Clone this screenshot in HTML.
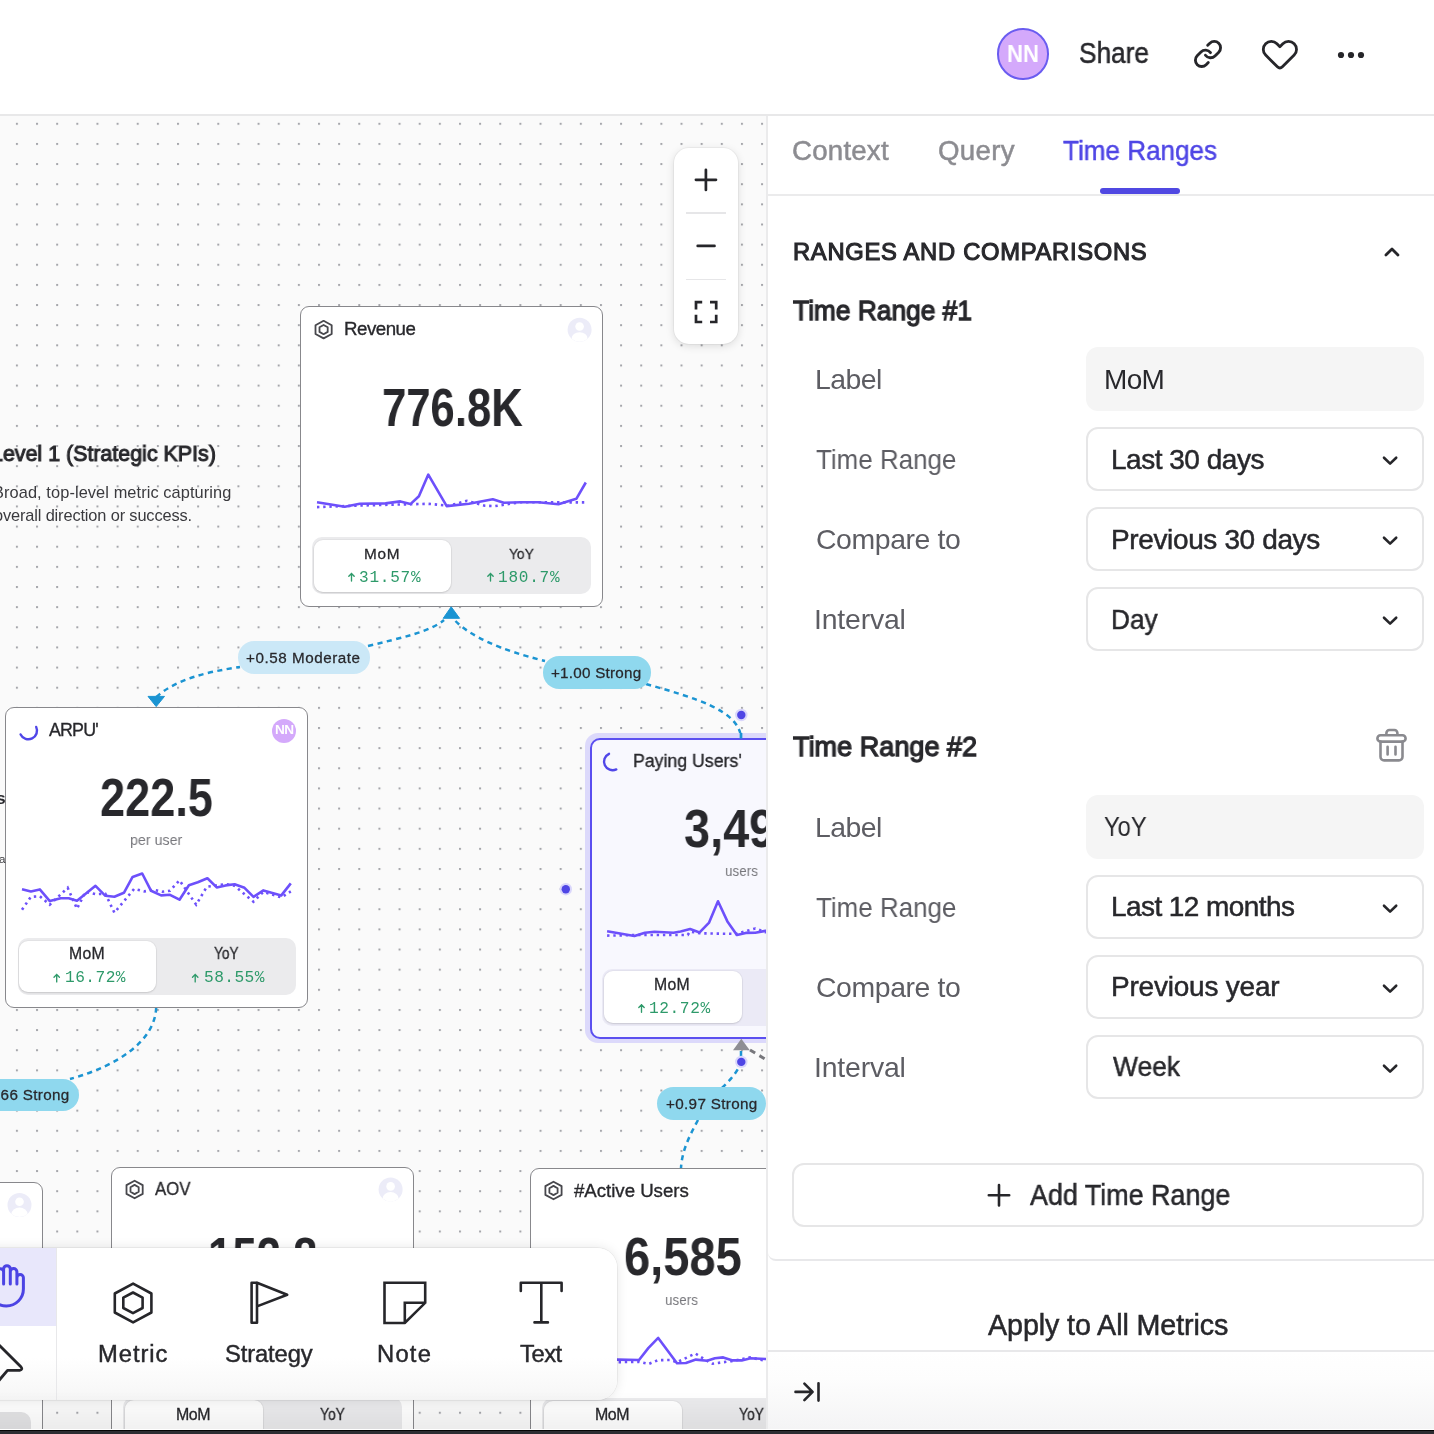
<!DOCTYPE html><html><head><meta charset="utf-8"><style>
*{margin:0;padding:0;box-sizing:border-box}
html,body{width:1434px;height:1434px;overflow:hidden;background:#fff;font-family:"Liberation Sans",sans-serif;color:#28282c}
.a{position:absolute}
.t{position:absolute;white-space:nowrap;line-height:1;will-change:transform}
svg{position:absolute;overflow:visible}
</style></head><body>
<div class="a" style="left:0;top:0;width:767px;height:1430px;overflow:hidden">
<div class="a" style="left:0;top:115px;width:767px;height:1315px;background:#fafafa"></div>
<svg class="a" style="left:0;top:0" width="767" height="1430"><defs><pattern id="dg" x="15.9" y="122.8" width="20.14" height="20.14" patternUnits="userSpaceOnUse"><rect width="2" height="2" fill="#a5a6ab"/></pattern></defs><rect x="0" y="116" width="767" height="1314" fill="url(#dg)"/></svg>
<svg class="a" style="left:0;top:0" width="767" height="1430" fill="none"><path d="M156.3 697 C 175 680, 205 672, 240 667" stroke="#1b94d2" stroke-width="2.5" stroke-dasharray="5.2 4.4"/><path d="M368 646 C 400 638, 430 632, 444 620" stroke="#1b94d2" stroke-width="2.5" stroke-dasharray="5.2 4.4"/><path d="M455.5 621 C 470 636, 500 650, 545 661" stroke="#1b94d2" stroke-width="2.5" stroke-dasharray="5.2 4.4"/><path d="M646 684 C 695 698, 738 710, 741 737" stroke="#1b94d2" stroke-width="2.5" stroke-dasharray="5.2 4.4"/><path d="M156.2 1007.5 C 155 1040, 120 1065, 70 1079" stroke="#1b94d2" stroke-width="2.5" stroke-dasharray="5.2 4.4"/><path d="M741 1051 L741 1062 C 738 1072, 730 1080, 722 1088" stroke="#1b94d2" stroke-width="2.5" stroke-dasharray="5.2 4.4"/><path d="M698 1120 C 690 1135, 682 1150, 681 1168" stroke="#1b94d2" stroke-width="2.5" stroke-dasharray="5.2 4.4"/><path d="M750 1050 L770 1062" stroke="#77777c" stroke-width="3" stroke-dasharray="6 5"/></svg>
<div class="a" style="left:300px;top:306px;width:303px;height:301px;background:#fff;border:1.3px solid #88888c;border-radius:9px;"></div>
<svg class="a" style="left:0;top:0" width="1" height="1"><path d="M323.6 320.8 L331.7 325.2 L331.7 334.0 L323.6 338.4 L315.5 334.0 L315.5 325.2 Z M323.6 325.0 L327.7 327.3 L327.7 331.9 L323.6 334.2 L319.5 331.9 L319.5 327.3 Z" stroke="#48484d" stroke-width="1.8" stroke-linejoin="round" fill="none"/></svg>
<div class="t" id="rev" style="left:343.70px;top:320.11px;font-size:18.7px;color:#28282c;-webkit-text-stroke:0.34px #28282c;letter-spacing:-0.491px;">Revenue</div>
<svg class="a" style="left:0;top:0" width="1" height="1"><circle cx="579.6" cy="329.7" r="12" fill="#ececf8"/><circle cx="579.6" cy="326.5" r="4.30" fill="#fff"/><path d="M571.6 338.7 a8.0 6.5 0 0 1 16.0 0 A12 12 0 0 1 571.6 338.7Z" fill="#fff"/></svg>
<div class="t" id="revn" style="left:381.53px;top:379.85px;font-size:54.06px;color:#28282c;font-weight:700;transform:scaleX(0.8076);transform-origin:0 0;">776.8K</div>
<svg class="a" style="left:0;top:0" width="1" height="1" fill="none"><polyline points="317.0,507.1 360.0,505.5 400.0,504.5 428.0,503.8 449.0,505.7 467.0,500.8 484.9,505.7 494.8,506.1 520.7,502.2 586.2,502.4" stroke="#6d50fb" stroke-width="2.6" stroke-dasharray="2.4 3.8" stroke-linecap="butt"/><polyline points="317.0,502.2 344.8,506.7 359.7,503.8 385.5,503.4 400.4,501.4 410.4,504.1 418.9,496.2 428.3,474.6 446.7,506.1 469.0,503.8 492.8,499.2 503.8,502.8 520.7,502.2 538.5,502.2 558.4,504.3 576.3,498.8 585.8,482.5" stroke="#6d50fb" stroke-width="2.6" stroke-linejoin="round"/></svg>
<div class="a" style="left:312px;top:537px;width:279px;height:57px;background:#ebebed;border-radius:10px"></div>
<div class="a" style="left:313.5px;top:539.5px;width:137px;height:52px;background:#fff;border-radius:9px;box-shadow:0 1px 2px rgba(0,0,0,.12),0 0 0 1px rgba(0,0,0,.03)"></div>
<div class="t" id="revm" style="left:364.40px;top:546.24px;font-size:15.36px;color:#28282c;-webkit-text-stroke:0.28px #28282c;letter-spacing:0.665px;">MoM</div>
<div class="t" id="revy" style="left:508.60px;top:546.24px;font-size:15.36px;color:#28282c;-webkit-text-stroke:0.28px #28282c;transform:scaleX(0.8963);transform-origin:0 0;">YoY</div>
<div class="t" id="revmv" style="left:358.60px;top:569.50px;font-size:16.06px;color:#2e9a6a;font-family:'Liberation Mono',monospace;letter-spacing:0.760px;">31.57%</div>
<div class="t" id="revyv" style="left:497.70px;top:569.50px;font-size:16.06px;color:#2e9a6a;font-family:'Liberation Mono',monospace;letter-spacing:0.760px;">180.7%</div>
<svg class="a" style="left:0;top:0" width="1" height="1" fill="none" stroke="#2e9a6a" stroke-width="1.35" stroke-linecap="round" stroke-linejoin="round"><path d="M351.5 581.0 V573.5 M348.8 576.3 L351.5 573.5 L354.2 576.3"/></svg>
<svg class="a" style="left:0;top:0" width="1" height="1" fill="none" stroke="#2e9a6a" stroke-width="1.35" stroke-linecap="round" stroke-linejoin="round"><path d="M490.5 581.0 V573.5 M487.8 576.3 L490.5 573.5 L493.2 576.3"/></svg>
<div class="a" style="left:5px;top:707px;width:303px;height:301px;background:#fff;border:1.3px solid #88888c;border-radius:9px;"></div>
<svg class="a" style="left:0;top:0" width="1" height="1" fill="none"><path d="M20.6 734.4 A8.5 8.5 0 0 0 36.2 726.9" stroke="#5046e8" stroke-width="2.4" stroke-linecap="round"/></svg>
<div class="t" id="arpu" style="left:48.70px;top:721.74px;font-size:17.83px;color:#28282c;-webkit-text-stroke:0.32px #28282c;letter-spacing:-0.831px;">ARPU'</div>
<div class="a" style="left:272.3px;top:718.5px;width:24px;height:24px;border-radius:50%;background:#d4a9fb"></div>
<div class="t" id="nns" style="left:274.90px;top:723.12px;font-size:13.62px;color:#fff;font-weight:700;letter-spacing:-0.665px;">NN</div>
<div class="t" id="arpun" style="left:99.94px;top:770.60px;font-size:54.35px;color:#28282c;font-weight:700;transform:scaleX(0.8301);transform-origin:0 0;">222.5</div>
<div class="t" id="peru" style="left:129.97px;top:832.04px;font-size:15.36px;color:#77777c;transform:scaleX(0.9273);transform-origin:0 0;">per user</div>
<svg class="a" style="left:0;top:0" width="1" height="1" fill="none"><polyline points="22.0,909.7 30.9,896.8 39.8,896.2 49.8,904.7 67.7,887.8 77.0,908.7 85.5,891.8 95.5,894.2 105.4,893.8 114.4,912.7 134.2,888.8 144.2,891.4 154.1,889.8 162.0,891.8 170.0,890.8 179.5,880.3 196.2,904.7 206.8,886.8 225.7,884.2 234.6,885.8 253.5,901.7 263.4,891.8 281.3,897.4 290.8,891.4" stroke="#6d50fb" stroke-width="2.6" stroke-dasharray="2.4 3.8" stroke-linecap="butt"/><polyline points="22.0,889.2 30.9,891.4 39.8,889.4 49.8,901.1 60.7,898.2 68.7,898.2 77.0,900.7 95.5,885.8 105.4,895.8 114.4,896.8 123.9,892.8 132.6,876.9 142.2,873.5 151.1,890.8 161.1,895.4 170.0,894.8 179.5,899.7 188.9,885.2 197.8,882.3 207.4,878.3 216.7,887.4 225.7,885.4 234.6,884.2 244.5,887.8 253.5,896.8 263.4,890.4 281.3,895.4 290.8,883.4" stroke="#6d50fb" stroke-width="2.6" stroke-linejoin="round"/></svg>
<div class="a" style="left:17.5px;top:938px;width:278.5px;height:56.5px;background:#ebebed;border-radius:10px"></div>
<div class="a" style="left:19.0px;top:940.5px;width:137px;height:51.5px;background:#fff;border-radius:9px;box-shadow:0 1px 2px rgba(0,0,0,.12),0 0 0 1px rgba(0,0,0,.03)"></div>
<div class="t" id="arpm" style="left:68.90px;top:946.27px;font-size:15.8px;color:#28282c;-webkit-text-stroke:0.28px #28282c;letter-spacing:0.237px;">MoM</div>
<div class="t" id="arpy" style="left:214.05px;top:946.27px;font-size:15.8px;color:#28282c;-webkit-text-stroke:0.28px #28282c;transform:scaleX(0.8679);transform-origin:0 0;">YoY</div>
<div class="t" id="arpmv" style="left:64.90px;top:970.28px;font-size:16.21px;color:#2e9a6a;font-family:'Liberation Mono',monospace;letter-spacing:0.456px;">16.72%</div>
<div class="t" id="arpyv" style="left:203.90px;top:970.28px;font-size:16.21px;color:#2e9a6a;font-family:'Liberation Mono',monospace;letter-spacing:0.418px;">58.55%</div>
<svg class="a" style="left:0;top:0" width="1" height="1" fill="none" stroke="#2e9a6a" stroke-width="1.35" stroke-linecap="round" stroke-linejoin="round"><path d="M56.7 981.9 V974.4 M54.0 977.2 L56.7 974.4 L59.4 977.2"/></svg>
<svg class="a" style="left:0;top:0" width="1" height="1" fill="none" stroke="#2e9a6a" stroke-width="1.35" stroke-linecap="round" stroke-linejoin="round"><path d="M195.2 981.9 V974.4 M192.5 977.2 L195.2 974.4 L197.9 977.2"/></svg>
<div class="a" style="left:585px;top:733.3px;width:310px;height:310px;border-radius:13px;background:#dcd9fb"></div>
<div class="a" style="left:589.5px;top:737.6px;width:301px;height:301px;border-radius:10px;background:#f8f8fe;border:2px solid #5b4ff0"></div>
<svg class="a" style="left:0;top:0" width="1" height="1" fill="none"><path d="M609 753.8 A8.6 8.6 0 0 0 616.3 769.4" stroke="#5046e8" stroke-width="2.4" stroke-linecap="round"/></svg>
<div class="t" id="pay" style="left:633.25px;top:751.50px;font-size:18.7px;color:#28282c;-webkit-text-stroke:0.34px #28282c;transform:scaleX(0.9478);transform-origin:0 0;">Paying Users'</div>
<div class="t" id="payn" style="left:683.64px;top:801.33px;font-size:54.2px;color:#28282c;font-weight:700;transform:scaleX(0.8647);transform-origin:0 0;">3,493</div>
<div class="t" id="payu" style="left:724.88px;top:862.94px;font-size:15.36px;color:#77777c;transform:scaleX(0.8750);transform-origin:0 0;">users</div>
<svg class="a" style="left:0;top:0" width="1" height="1" fill="none"><polyline points="607.1,935.6 640.0,935.0 687.7,935.0 690.0,931.5 699.6,933.3 736.3,933.9 755.3,928.5 765.4,932.1 780.0,931.0" stroke="#6d50fb" stroke-width="2.6" stroke-dasharray="2.4 3.8" stroke-linecap="butt"/><polyline points="607.1,931.3 634.4,936.0 645.0,932.7 654.5,931.7 673.5,932.7 680.6,931.5 690.1,929.1 699.6,932.4 709.1,922.6 718.0,901.3 727.4,921.4 736.9,935.0 745.8,932.9 755.3,932.7 765.4,930.9 780.0,930.0" stroke="#6d50fb" stroke-width="2.6" stroke-linejoin="round"/></svg>
<div class="a" style="left:602px;top:968.5px;width:290px;height:57px;background:#ebeaf6;border-radius:10px"></div>
<div class="a" style="left:603.5px;top:971.0px;width:138px;height:52px;background:#fff;border-radius:9px;box-shadow:0 1px 2px rgba(0,0,0,.12),0 0 0 1px rgba(0,0,0,.03)"></div>
<div class="t" id="paym" style="left:654.00px;top:977.17px;font-size:15.8px;color:#28282c;-webkit-text-stroke:0.28px #28282c;letter-spacing:0.237px;">MoM</div>
<div class="t" id="paymv" style="left:649.00px;top:1000.58px;font-size:16.21px;color:#2e9a6a;font-family:'Liberation Mono',monospace;letter-spacing:0.570px;">12.72%</div>
<svg class="a" style="left:0;top:0" width="1" height="1" fill="none" stroke="#2e9a6a" stroke-width="1.35" stroke-linecap="round" stroke-linejoin="round"><path d="M641.5 1012.2 V1004.7 M638.8 1007.5 L641.5 1004.7 L644.2 1007.5"/></svg>
<div class="a" style="left:-260px;top:1181.5px;width:303px;height:301px;background:#fff;border:1.3px solid #88888c;border-radius:9px;"></div>
<svg class="a" style="left:0;top:0" width="1" height="1"><circle cx="19.5" cy="1205" r="12" fill="#ececf8"/><circle cx="19.5" cy="1201.8" r="4.30" fill="#fff"/><path d="M11.5 1214.0 a8.0 6.5 0 0 1 16.0 0 A12 12 0 0 1 11.5 1214.0Z" fill="#fff"/></svg>
<div class="a" style="left:111px;top:1166.5px;width:303px;height:301px;background:#fff;border:1.3px solid #88888c;border-radius:9px;"></div>
<svg class="a" style="left:0;top:0" width="1" height="1"><path d="M134.6 1180.7 L142.7 1185.1 L142.7 1193.9 L134.6 1198.3 L126.5 1193.9 L126.5 1185.1 Z M134.6 1184.9 L138.7 1187.2 L138.7 1191.8 L134.6 1194.1 L130.5 1191.8 L130.5 1187.2 Z" stroke="#48484d" stroke-width="1.8" stroke-linejoin="round" fill="none"/></svg>
<div class="t" id="aov" style="left:154.80px;top:1179.83px;font-size:18.55px;color:#28282c;-webkit-text-stroke:0.33px #28282c;transform:scaleX(0.9077);transform-origin:0 0;">AOV</div>
<svg class="a" style="left:0;top:0" width="1" height="1"><circle cx="390.6" cy="1189.6" r="12" fill="#ececf8"/><circle cx="390.6" cy="1186.3999999999999" r="4.30" fill="#fff"/><path d="M382.6 1198.6 a8.0 6.5 0 0 1 16.0 0 A12 12 0 0 1 382.6 1198.6Z" fill="#fff"/></svg>
<div class="t" id="aovn" style="left:207.78px;top:1229.03px;font-size:54.2px;color:#28282c;font-weight:700;transform:scaleX(0.8061);transform-origin:0 0;">152.8</div>
<div class="a" style="left:123px;top:1397px;width:279px;height:57px;background:#ebebed;border-radius:10px"></div>
<div class="a" style="left:124.5px;top:1399.5px;width:138px;height:52px;background:#fff;border-radius:9px;box-shadow:0 1px 2px rgba(0,0,0,.12),0 0 0 1px rgba(0,0,0,.03)"></div>
<div class="t" id="aovm" style="left:175.80px;top:1407.05px;font-size:15.94px;color:#28282c;-webkit-text-stroke:0.29px #28282c;letter-spacing:-0.475px;">MoM</div>
<div class="t" id="aovy" style="left:319.55px;top:1407.05px;font-size:15.94px;color:#28282c;-webkit-text-stroke:0.29px #28282c;transform:scaleX(0.8679);transform-origin:0 0;">YoY</div>
<div class="a" style="left:-250px;top:1412px;width:281px;height:57px;background:#e3e3e5;border-radius:10px"></div>
<div class="a" style="left:530px;top:1167.5px;width:303px;height:301px;background:#fff;border:1.3px solid #88888c;border-radius:9px;"></div>
<svg class="a" style="left:0;top:0" width="1" height="1"><path d="M553.5 1181.7 L561.6 1186.1 L561.6 1194.9 L553.5 1199.3 L545.4 1194.9 L545.4 1186.1 Z M553.5 1185.9 L557.6 1188.2 L557.6 1192.8 L553.5 1195.1 L549.4 1192.8 L549.4 1188.2 Z" stroke="#48484d" stroke-width="1.8" stroke-linejoin="round" fill="none"/></svg>
<div class="t" id="act" style="left:573.80px;top:1181.70px;font-size:18.7px;color:#28282c;-webkit-text-stroke:0.34px #28282c;letter-spacing:-0.040px;">#Active Users</div>
<div class="t" id="actn" style="left:623.64px;top:1230.22px;font-size:53.62px;color:#28282c;font-weight:700;transform:scaleX(0.8779);transform-origin:0 0;">6,585</div>
<div class="t" id="actu" style="left:664.88px;top:1292.34px;font-size:15.36px;color:#77777c;transform:scaleX(0.8750);transform-origin:0 0;">users</div>
<svg class="a" style="left:0;top:0" width="1" height="1" fill="none"><polyline points="600.0,1362.4 639.0,1361.8 648.5,1364.0 658.0,1360.2 670.3,1360.0 677.0,1362.2 695.4,1353.5 706.0,1360.2 712.6,1363.7 731.6,1361.1 750.0,1357.4 765.0,1360.7 780.0,1360.0" stroke="#6d50fb" stroke-width="2.6" stroke-dasharray="2.4 3.8" stroke-linecap="butt"/><polyline points="600.0,1359.6 617.3,1359.6 639.0,1360.0 648.5,1347.9 658.2,1337.9 677.0,1363.3 685.9,1363.0 695.9,1359.6 707.1,1360.7 714.9,1358.2 723.2,1357.4 732.7,1360.4 741.7,1360.4 750.6,1358.2 765.6,1359.0 780.0,1359.0" stroke="#6d50fb" stroke-width="2.6" stroke-linejoin="round"/></svg>
<div class="a" style="left:542px;top:1398px;width:279px;height:57px;background:#ebebed;border-radius:10px"></div>
<div class="a" style="left:543.5px;top:1400.5px;width:138px;height:52px;background:#fff;border-radius:9px;box-shadow:0 1px 2px rgba(0,0,0,.12),0 0 0 1px rgba(0,0,0,.03)"></div>
<div class="t" id="actm" style="left:594.50px;top:1407.25px;font-size:15.94px;color:#28282c;-webkit-text-stroke:0.29px #28282c;letter-spacing:-0.475px;">MoM</div>
<div class="t" id="acty" style="left:738.85px;top:1407.25px;font-size:15.94px;color:#28282c;-webkit-text-stroke:0.29px #28282c;transform:scaleX(0.8679);transform-origin:0 0;">YoY</div>
<svg class="a" style="left:0;top:0" width="767" height="1430"><path d="M451.2 606.8 L459.6 618.3 L443.2 618.3 Z" fill="#1b94d2" stroke="#1b94d2" stroke-width="1" stroke-linejoin="round"/><path d="M156.2 706.6 L164.5 696.4 L148 696.4 Z" fill="#1b94d2" stroke="#1b94d2" stroke-width="1" stroke-linejoin="round"/><path d="M741.3 1038.8 L749.8 1050.3 L733 1050.3 Z" fill="#8e8e93"/><path d="M741 733 V738.5" stroke="#1b94d2" stroke-width="2.7"/><circle cx="741.3" cy="715" r="6.2" fill="#d9d6fb"/><circle cx="741.3" cy="715" r="4.2" fill="#4f46e5"/><circle cx="565.8" cy="889.2" r="6.2" fill="#d9d6fb"/><circle cx="565.8" cy="889.2" r="4.2" fill="#4f46e5"/><circle cx="741.3" cy="1061.9" r="6.2" fill="#d9d6fb"/><circle cx="741.3" cy="1061.9" r="4.2" fill="#4f46e5"/></svg>
<div class="a" style="left:238.2px;top:641.3px;width:131.7px;height:32.3px;border-radius:16.15px;background:#cbe8f7"></div>
<div class="t" id="p1" style="left:246.00px;top:649.96px;font-size:15.22px;color:#28282c;-webkit-text-stroke:0.27px #28282c;letter-spacing:0.541px;">+0.58 Moderate</div>
<div class="a" style="left:542.5px;top:656.3px;width:108px;height:32.4px;border-radius:16.2px;background:#8fd8ee"></div>
<div class="t" id="p2" style="left:550.90px;top:664.76px;font-size:15.22px;color:#28282c;-webkit-text-stroke:0.27px #28282c;letter-spacing:0.233px;">+1.00 Strong</div>
<div class="a" style="left:657.3px;top:1087px;width:108.3px;height:32.8px;border-radius:16.4px;background:#8fd8ee"></div>
<div class="t" id="p3" style="left:665.60px;top:1095.56px;font-size:15.22px;color:#28282c;-webkit-text-stroke:0.27px #28282c;letter-spacing:0.337px;">+0.97 Strong</div>
<div class="a" style="left:-40px;top:1078.8px;width:118.8px;height:32.5px;border-radius:16.25px;background:#8fd8ee"></div>
<div class="t" id="p4" style="left:-22.00px;top:1087.46px;font-size:15.22px;color:#28282c;-webkit-text-stroke:0.27px #28282c;letter-spacing:0.337px;">+0.66 Strong</div>
<div class="t" id="lvl" style="left:-8.94px;top:442.06px;font-size:22.75px;color:#28282c;-webkit-text-stroke:1.05px #28282c;transform:scaleX(0.9409);transform-origin:0 0;">Level 1 (Strategic KPIs)</div>
<div class="t" id="lvl2" style="left:-7.00px;top:484.08px;font-size:16.38px;color:#3a3a3e;letter-spacing:0.089px;">Broad, top-level metric capturing</div>
<div class="t" id="lvl3" style="left:-5.60px;top:507.08px;font-size:16.38px;color:#3a3a3e;letter-spacing:-0.136px;">overall direction or success.</div>
<div class="t" id="lvl4" style="left:-4.00px;top:790.22px;font-size:17.39px;color:#28282c;font-weight:700;">s</div>
<div class="t" id="lvl5" style="left:-1.00px;top:854.15px;font-size:11.59px;color:#3a3a3e;">a</div>
<div class="a" style="left:673.6px;top:147.6px;width:64.6px;height:196.7px;background:#fff;border-radius:15px;box-shadow:0 2px 8px rgba(0,0,0,.13),0 0 0 1px rgba(0,0,0,.04)"></div>
<div class="a" style="left:686.2px;top:212.4px;width:39.7px;height:1.2px;background:#e6e6e8"></div>
<div class="a" style="left:686.2px;top:278.5px;width:39.7px;height:1.2px;background:#e6e6e8"></div>
<svg class="a" style="left:0;top:0" width="1" height="1" fill="none" stroke="#26262a" stroke-width="2.7" stroke-linecap="round"><path d="M695.9 179.8 H716 M705.9 169.8 V190"/><path d="M697.7 245.9 H714.5"/><path d="M696 309.5 V302.2 H702.2 M710 302.2 H716.2 V309.5 M716.2 314.8 V322 H710 M702.2 322 H696 V314.8" stroke-linecap="butt" stroke-linejoin="miter"/></svg>
<div class="a" style="left:-30px;top:1247.8px;width:647.2px;height:152px;background:linear-gradient(#fff 0%,#fff 72%,#f6f6f6 100%);border-radius:20px;box-shadow:0 0 12px rgba(0,0,0,.10),0 0 0 1px rgba(0,0,0,.05)"></div>
<div class="a" style="left:0;top:1248px;width:55.5px;height:77.5px;background:#e8e7fb"></div>
<div class="a" style="left:55.5px;top:1248px;width:1.5px;height:151.5px;background:#e8e8ea"></div>
<svg class="a" style="left:0;top:0" width="1" height="1" fill="none" stroke-linecap="round" stroke-linejoin="round"><path stroke="#4c44e4" stroke-width="3" d="M-3 1284 V1272.1 A3.3 3.3 0 0 1 3.6 1272.1 M3.6 1284 V1269 A3.35 3.35 0 0 1 10.3 1269 V1284 M10.3 1271.8 A3.3 3.3 0 0 1 16.9 1271.8 V1284 M16.9 1277.8 A3.25 3.25 0 0 1 23.4 1277.8 V1289 A17 17 0 0 1 -10.6 1289"/><path d="M-14 1332 L20.6 1366.4 Q23.4 1369.6 19.6 1370.4 L7.5 1370.4 L-1.5 1381" stroke="#26262a" stroke-width="2.8"/><path d="M133.1 1283.6 L151.4 1293.5 L151.4 1312.5 L133.1 1322.4 L114.8 1312.5 L114.8 1293.5 Z M133 1292.5 L142.6 1297.6 L142.6 1308 L133 1313.1 L123.3 1308 L123.3 1297.6 Z" stroke="#26262a" stroke-width="2.6"/><path d="M251.6 1282.7 H257 V1322.8 H251.6 Z M257 1282.7 L287.2 1294.8 L257 1306.4" stroke="#26262a" stroke-width="2.6"/><path d="M384.5 1282.7 H425.2 V1302.8 L404.8 1323 H384.5 Z M404.8 1323 V1302.8 H425.2" stroke="#26262a" stroke-width="2.6" stroke-linejoin="miter"/><path d="M520.8 1291 V1282.7 H561.6 V1291 M541.3 1282.7 V1322.4 M534.5 1322.4 H547.9" stroke="#26262a" stroke-width="2.6"/></svg>
<div class="t" id="tb1" style="left:97.70px;top:1341.60px;font-size:23.77px;color:#28282c;-webkit-text-stroke:0.43px #28282c;letter-spacing:0.950px;">Metric</div>
<div class="t" id="tb2" style="left:224.90px;top:1341.60px;font-size:23.77px;color:#28282c;-webkit-text-stroke:0.43px #28282c;letter-spacing:-0.122px;">Strategy</div>
<div class="t" id="tb3" style="left:377.40px;top:1341.60px;font-size:23.77px;color:#28282c;-webkit-text-stroke:0.43px #28282c;letter-spacing:1.235px;">Note</div>
<div class="t" id="tb4" style="left:520.00px;top:1341.60px;font-size:23.77px;color:#28282c;-webkit-text-stroke:0.43px #28282c;letter-spacing:-0.475px;">Text</div>
</div>
<div class="a" style="left:0;top:114px;width:1434px;height:2px;background:#e8e8e9"></div>
<div class="a" style="left:997.2px;top:28.2px;width:51.4px;height:51.4px;border-radius:50%;background:#d4a9fb;border:2.2px solid #6a5cf0"></div>
<div class="t" id="nnh" style="left:1007.48px;top:41.68px;font-size:23.91px;color:#fff;font-weight:700;transform:scaleX(0.9250);transform-origin:0 0;">NN</div>
<div class="t" id="share" style="left:1079.39px;top:38.50px;font-size:28.7px;color:#28282c;-webkit-text-stroke:0.52px #28282c;transform:scaleX(0.9147);transform-origin:0 0;">Share</div>
<svg class="a" style="left:0;top:0" width="1" height="1" fill="none" stroke="#26262a" stroke-width="3.2" stroke-linecap="round" stroke-linejoin="round"><g transform="translate(1192.8 38.8) scale(1.265)" stroke-width="2.25"><path d="M10 13a5 5 0 0 0 7.54.54l3-3a5 5 0 0 0-7.07-7.07l-1.72 1.71"/><path d="M14 11a5 5 0 0 0-7.54-.54l-3 3a5 5 0 0 0 7.07 7.07l1.71-1.71"/></g><path stroke-width="2.8" d="M1279.9 46.68 L1276.96 43.74 A8 8 0 1 0 1265.64 55.06 L1277.4 66.82 Q1279.9 69.32 1282.4 66.82 L1294.16 55.06 A8 8 0 1 0 1282.84 43.74 Z"/></svg>
<svg class="a" style="left:0;top:0" width="1" height="1"><circle cx="1341" cy="55" r="3.1" fill="#26262a"/><circle cx="1351" cy="55" r="3.1" fill="#26262a"/><circle cx="1361" cy="55" r="3.1" fill="#26262a"/></svg>
<div class="a" style="left:766px;top:116px;width:2px;height:1314px;background:#ebebec"></div>
<div class="a" style="left:768px;top:194px;width:666px;height:2px;background:#ebebec"></div>
<div class="t" id="tab1" style="left:792.00px;top:137.27px;font-size:27.68px;color:#8c8c91;-webkit-text-stroke:0.50px #8c8c91;letter-spacing:0.206px;">Context</div>
<div class="t" id="tab2" style="left:937.60px;top:137.27px;font-size:27.68px;color:#8c8c91;-webkit-text-stroke:0.50px #8c8c91;letter-spacing:0.332px;">Query</div>
<div class="t" id="tab3" style="left:1063.10px;top:137.27px;font-size:27.68px;color:#4f46e5;-webkit-text-stroke:0.50px #4f46e5;transform:scaleX(0.9417);transform-origin:0 0;">Time Ranges</div>
<div class="a" style="left:1100px;top:188px;width:80px;height:6px;border-radius:3px;background:#5048e2"></div>
<div class="t" id="sec" style="left:792.80px;top:239.70px;font-size:23.77px;color:#28282c;-webkit-text-stroke:1.09px #28282c;letter-spacing:0.701px;">RANGES AND COMPARISONS</div>
<svg class="a" style="left:0;top:0" width="1" height="1" fill="none" stroke="#26262a" stroke-width="2.8" stroke-linecap="round" stroke-linejoin="round"><path d="M1385.9 255.1 L1392 249 L1398 255.1"/></svg>
<div class="t" id="tr1" style="left:793.00px;top:297.10px;font-size:28.12px;color:#28282c;-webkit-text-stroke:1.29px #28282c;transform:scaleX(0.9361);transform-origin:0 0;">Time Range #1</div>
<div class="t" id="tr2" style="left:793.00px;top:732.90px;font-size:28.12px;color:#28282c;-webkit-text-stroke:1.29px #28282c;transform:scaleX(0.9632);transform-origin:0 0;">Time Range #2</div>
<svg class="a" style="left:0;top:0" width="1" height="1" fill="none" stroke="#8a8a8f" stroke-width="2.6" stroke-linecap="round" stroke-linejoin="round"><path d="M1386.4 734.5 V733 a3 3 0 0 1 3 -3 h5 a3 3 0 0 1 3 3 V734.5"/><rect x="1377.4" y="735.3" width="28.2" height="6.3" rx="3.1"/><path d="M1380.5 741.6 V756.8 a3.6 3.6 0 0 0 3.6 3.6 h14.8 a3.6 3.6 0 0 0 3.6 -3.6 V741.6"/><path d="M1387.6 746.8 V754.4 M1395.5 746.8 V754.4"/></svg>
<div class="a" style="left:1086px;top:347px;width:338px;height:64px;border-radius:12px;background:#f5f5f5"></div>
<div class="a" style="left:1086px;top:427px;width:338px;height:64px;border-radius:12px;background:#fff;border:2px solid #e6e6e7"></div>
<svg class="a" style="left:0;top:0" width="1" height="1" fill="none" stroke="#26262a" stroke-width="2.6" stroke-linecap="round" stroke-linejoin="round"><path d="M1384 457.7 L1390.1 463.6 L1396.2 457.7"/></svg>
<div class="a" style="left:1086px;top:507px;width:338px;height:64px;border-radius:12px;background:#fff;border:2px solid #e6e6e7"></div>
<svg class="a" style="left:0;top:0" width="1" height="1" fill="none" stroke="#26262a" stroke-width="2.6" stroke-linecap="round" stroke-linejoin="round"><path d="M1384 537.7 L1390.1 543.6 L1396.2 537.7"/></svg>
<div class="a" style="left:1086px;top:587px;width:338px;height:64px;border-radius:12px;background:#fff;border:2px solid #e6e6e7"></div>
<svg class="a" style="left:0;top:0" width="1" height="1" fill="none" stroke="#26262a" stroke-width="2.6" stroke-linecap="round" stroke-linejoin="round"><path d="M1384 617.7 L1390.1 623.6 L1396.2 617.7"/></svg>
<div class="a" style="left:1086px;top:795px;width:338px;height:64px;border-radius:12px;background:#f5f5f5"></div>
<div class="a" style="left:1086px;top:875px;width:338px;height:64px;border-radius:12px;background:#fff;border:2px solid #e6e6e7"></div>
<svg class="a" style="left:0;top:0" width="1" height="1" fill="none" stroke="#26262a" stroke-width="2.6" stroke-linecap="round" stroke-linejoin="round"><path d="M1384 905.7 L1390.1 911.6 L1396.2 905.7"/></svg>
<div class="a" style="left:1086px;top:955px;width:338px;height:64px;border-radius:12px;background:#fff;border:2px solid #e6e6e7"></div>
<svg class="a" style="left:0;top:0" width="1" height="1" fill="none" stroke="#26262a" stroke-width="2.6" stroke-linecap="round" stroke-linejoin="round"><path d="M1384 985.7 L1390.1 991.6 L1396.2 985.7"/></svg>
<div class="a" style="left:1086px;top:1035px;width:338px;height:64px;border-radius:12px;background:#fff;border:2px solid #e6e6e7"></div>
<svg class="a" style="left:0;top:0" width="1" height="1" fill="none" stroke="#26262a" stroke-width="2.6" stroke-linecap="round" stroke-linejoin="round"><path d="M1384 1065.7 L1390.1 1071.6 L1396.2 1065.7"/></svg>
<div class="t" id="lab10" style="left:815.20px;top:365.15px;font-size:28.41px;color:#5d5d63;letter-spacing:-0.570px;">Label</div>
<div class="t" id="val00" style="left:1103.60px;top:365.53px;font-size:27.97px;color:#28282c;letter-spacing:-0.665px;">MoM</div>
<div class="t" id="lab11" style="left:816.29px;top:445.15px;font-size:28.41px;color:#5d5d63;transform:scaleX(0.9139);transform-origin:0 0;">Time Range</div>
<div class="t" id="val01" style="left:1111.20px;top:445.53px;font-size:27.97px;color:#28282c;-webkit-text-stroke:0.50px #28282c;letter-spacing:-0.475px;">Last 30 days</div>
<div class="t" id="lab12" style="left:816.20px;top:525.15px;font-size:28.41px;color:#5d5d63;letter-spacing:-0.412px;">Compare to</div>
<div class="t" id="val02" style="left:1111.20px;top:525.53px;font-size:27.97px;color:#28282c;-webkit-text-stroke:0.50px #28282c;letter-spacing:-0.355px;">Previous 30 days</div>
<div class="t" id="lab13" style="left:814.20px;top:605.15px;font-size:28.41px;color:#5d5d63;letter-spacing:-0.176px;">Interval</div>
<div class="t" id="val03" style="left:1111.33px;top:605.53px;font-size:27.97px;color:#28282c;-webkit-text-stroke:0.50px #28282c;transform:scaleX(0.9375);transform-origin:0 0;">Day</div>
<div class="t" id="lab20" style="left:815.20px;top:812.75px;font-size:28.41px;color:#5d5d63;letter-spacing:-0.570px;">Label</div>
<div class="t" id="val10" style="left:1104.15px;top:813.13px;font-size:27.97px;color:#28282c;transform:scaleX(0.8469);transform-origin:0 0;">YoY</div>
<div class="t" id="lab21" style="left:816.29px;top:892.75px;font-size:28.41px;color:#5d5d63;transform:scaleX(0.9139);transform-origin:0 0;">Time Range</div>
<div class="t" id="val11" style="left:1111.20px;top:893.13px;font-size:27.97px;color:#28282c;-webkit-text-stroke:0.50px #28282c;letter-spacing:-0.555px;">Last 12 months</div>
<div class="t" id="lab22" style="left:816.20px;top:972.75px;font-size:28.41px;color:#5d5d63;letter-spacing:-0.412px;">Compare to</div>
<div class="t" id="val12" style="left:1111.20px;top:973.13px;font-size:27.97px;color:#28282c;-webkit-text-stroke:0.50px #28282c;letter-spacing:-0.198px;">Previous year</div>
<div class="t" id="lab23" style="left:814.20px;top:1052.75px;font-size:28.41px;color:#5d5d63;letter-spacing:-0.176px;">Interval</div>
<div class="t" id="val13" style="left:1113.20px;top:1053.13px;font-size:27.97px;color:#28282c;-webkit-text-stroke:0.50px #28282c;transform:scaleX(0.9437);transform-origin:0 0;">Week</div>
<div class="a" style="left:792px;top:1163px;width:632px;height:64px;border-radius:12px;border:2px solid #e6e6e7;background:#fff"></div>
<svg class="a" style="left:0;top:0" width="1" height="1" fill="none" stroke="#26262a" stroke-width="2.6" stroke-linecap="round"><path d="M988.8 1195.2 H1009.2 M999 1185 V1205.4"/></svg>
<div class="t" id="addtr" style="left:1030.10px;top:1180.79px;font-size:28.84px;color:#28282c;-webkit-text-stroke:0.52px #28282c;transform:scaleX(0.9327);transform-origin:0 0;">Add Time Range</div>
<div class="a" style="left:768px;top:1200px;width:700px;height:61px;border-bottom:2px solid #e8e8ea;border-left:0;border-bottom-left-radius:8px"></div>
<div class="t" id="apply" style="left:988.30px;top:1310.90px;font-size:28.7px;color:#28282c;-webkit-text-stroke:0.52px #28282c;letter-spacing:-0.105px;">Apply to All Metrics</div>
<div class="a" style="left:768px;top:1350px;width:666px;height:79px;background:linear-gradient(#fff,#fdfdfd 35%,#f4f4f5);border-top:2px solid #e8e8ea"></div>
<svg class="a" style="left:0;top:0" width="1" height="1" fill="none" stroke="#26262a" stroke-width="2.6" stroke-linecap="round" stroke-linejoin="round"><path d="M795.5 1391.9 H812.3 M804.4 1383.6 L812.6 1391.9 L804.4 1400.2 M818.5 1383.3 V1400.6"/></svg>
<div class="a" style="left:0;top:1392px;width:766px;height:37px;background:linear-gradient(rgba(0,0,0,0),rgba(0,0,0,.055))"></div>
<div class="a" style="left:0;top:1429px;width:1434px;height:1px;background:#fff"></div>
<div class="a" style="left:0;top:1430px;width:1434px;height:1px;background:#050505"></div>
<div class="a" style="left:0;top:1431px;width:1434px;height:3px;background:#2c2c31"></div>
</body></html>
